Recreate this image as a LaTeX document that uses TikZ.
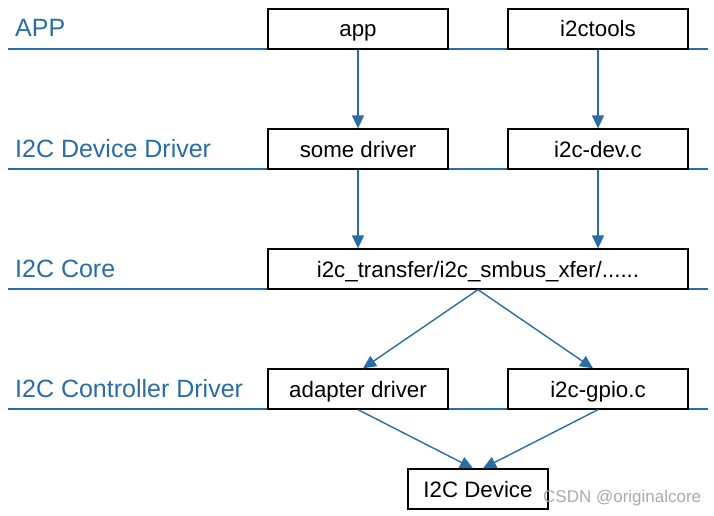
\documentclass[tikz,border=0pt]{standalone}
\usepackage{fontspec}
\setmainfont{Liberation Sans}
\usetikzlibrary{arrows.meta}
\definecolor{layerblue}{RGB}{41,108,166}
\definecolor{markgray}{RGB}{170,170,170}

\begin{document}
\begin{tikzpicture}[x=1pt, y=-1pt,
        layer/.style={layerblue, line width=1.3pt},
        layername/.style={anchor=base west, inner sep=0pt, text=layerblue, font=\fontsize{25}{30}\selectfont},
        box/.style={draw, line width=1.3pt, fill=white, minimum width=180pt, minimum height=40pt, inner sep=0pt, text height=18pt, text depth=2pt, font=\fontsize{22.3}{26}\selectfont},
        flow/.style={layerblue, line width=1.4pt, -{Triangle[length=13pt, width=12pt]}}]
            \useasboundingbox (0, 0) rectangle (714, 516);
            % layer lines
            \coordinate (l1a) at (8, 49);
            \coordinate (l1b) at (708, 49);
            \coordinate (l2a) at (8, 169);
            \coordinate (l2b) at (708, 169);
            \coordinate (l3a) at (8, 289);
            \coordinate (l3b) at (708, 289);
            \coordinate (l4a) at (8, 409);
            \coordinate (l4b) at (708, 409);
            \draw[layer] (l1a) to (l1b);
            \draw[layer] (l2a) to (l2b);
            \draw[layer] (l3a) to (l3b);
            \draw[layer] (l4a) to (l4b);
            % layer names
            \node[layername] (appname) at (15, 37) {APP};
            \node[layername] (devname) at (15, 157) {I2C Device Driver};
            \node[layername] (corename) at (15, 277) {I2C Core};
            \node[layername] (ctrlname) at (15, 397) {I2C Controller Driver};
            % boxes
            \node[box] (app) at (358, 29) {app};
            \node[box] (tools) at (598, 29) {i2ctools};
            \node[box] (some) at (358, 149) {some driver};
            \node[box] (dev) at (598, 149) {i2c-dev.c};
            \node[box, minimum width=420pt] (core) at (478, 269) {i2c\_transfer/i2c\_smbus\_xfer/......};
            \node[box] (adapter) at (358, 389) {adapter driver};
            \node[box] (gpio) at (598, 389) {i2c-gpio.c};
            \node[box, minimum width=140pt] (device) at (478, 489) {I2C Device};
            \node[anchor=base west, inner sep=0pt, text=markgray, font=\fontsize{17}{20}\selectfont] (mark) at (543, 502) {CSDN @originalcore};
            % arrows
            \draw[flow] (app.south) to (some.north);
            \draw[flow] (tools.south) to (dev.north);
            \draw[flow] (some.south) to (some.south |- core.north);
            \draw[flow] (dev.south) to (dev.south |- core.north);
            \draw[flow] (core.south) to ([xshift=5pt]adapter.north);
            \draw[flow] (core.south) to ([xshift=-5pt]gpio.north);
            \draw[flow] (adapter.south) to ([xshift=-5pt]device.north);
            \draw[flow] (gpio.south) to ([xshift=5pt]device.north);
        \end{tikzpicture}
\end{document}
